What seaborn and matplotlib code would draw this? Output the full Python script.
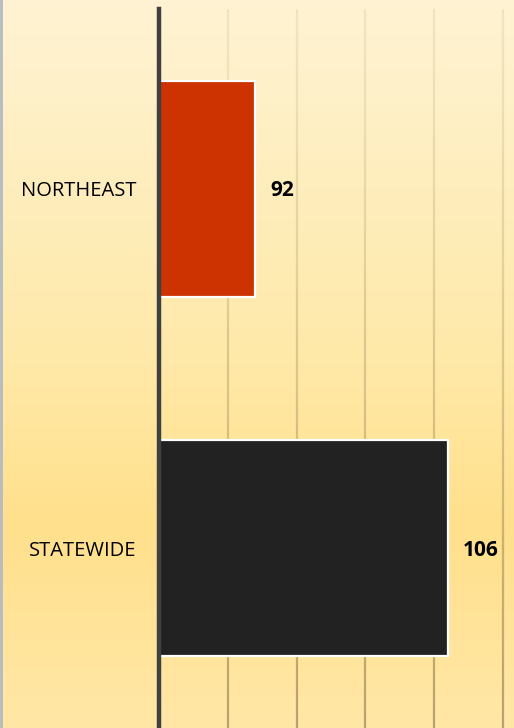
#^ Imports =========================================================================================>
import numpy as np
import pandas as pd
import matplotlib.pyplot as plt
import seaborn as sns
from matplotlib.colors import LinearSegmentedColormap

sns.set_theme(style='white')
plt.rcParams['font.family'] = ['Open Sans', 'DejaVu Sans']

#^ Data ============================================================================================>
regions = ['NORTHEAST', 'STATEWIDE']
values = [92, 106]
bar_colors = ['#CC3300', '#222222']
x_ticks = [85, 90, 95, 100, 105, 110]

df = pd.DataFrame({'Region': regions, 'Value': values})

#^ Figure ==========================================================================================>
fig = plt.figure(figsize=(5.14, 7.28), dpi=100)

# gradient background (cream at top, yellow lower down)
bg = fig.add_axes([0, 0, 1, 1], zorder=-2)
bg_cmap = LinearSegmentedColormap.from_list(
    'bg', [(0.0, '#FEF3D3'), (0.5, '#FFE9A8'), (0.72, '#FFE08C'), (1.0, '#FFE7A6')])
bg.imshow(np.linspace(0, 1, 256).reshape(-1, 1), aspect='auto', cmap=bg_cmap,
          extent=[0, 1, 1, 0])
bg.axvline(0.001, color='#B4BAC2', lw=2)
bg.set_axis_off()

ax = fig.add_axes([159 / 514, 0, 1 - 159 / 514, 1 - 9 / 728])
ax.patch.set_alpha(0)

sns.barplot(data=df, x='Value', y='Region', hue='Region', palette=bar_colors,
            orient='h', width=0.6, saturation=1, edgecolor='white', linewidth=1.6,
            legend=False, ax=ax, zorder=3)

ax.set_xlim(85, 110.8)
ax.set_ylim(1.5, -0.5)

# vertical gridlines that darken towards the bottom
ys = np.linspace(-0.5, 1.5, 60)
for t in x_ticks[1:]:
    for i in range(len(ys) - 1):
        a = 0.12 + 0.5 * (i / (len(ys) - 2)) ** 1.4
        ax.plot([t, t], [ys[i], ys[i + 1]], color='#8C7A4A', alpha=a, lw=1.6,
                solid_capstyle='butt', zorder=1)

for s in ['top', 'right', 'bottom']:
    ax.spines[s].set_visible(False)
ax.spines['left'].set_color('#404040')
ax.spines['left'].set_linewidth(3.2)
ax.spines['left'].set_zorder(4)

ax.set_xticks([])
ax.tick_params(axis='y', length=0, pad=16, labelsize=14.5, labelcolor='black')
ax.set_xlabel('')
ax.set_ylabel('')

for i, v in enumerate(values):
    ax.annotate(str(v), xy=(v, i), xytext=(15, -2), textcoords='offset pixels',
                va='center', ha='left', fontsize=15, fontweight='bold', color='black')

fig.savefig('out.png', dpi=100)
